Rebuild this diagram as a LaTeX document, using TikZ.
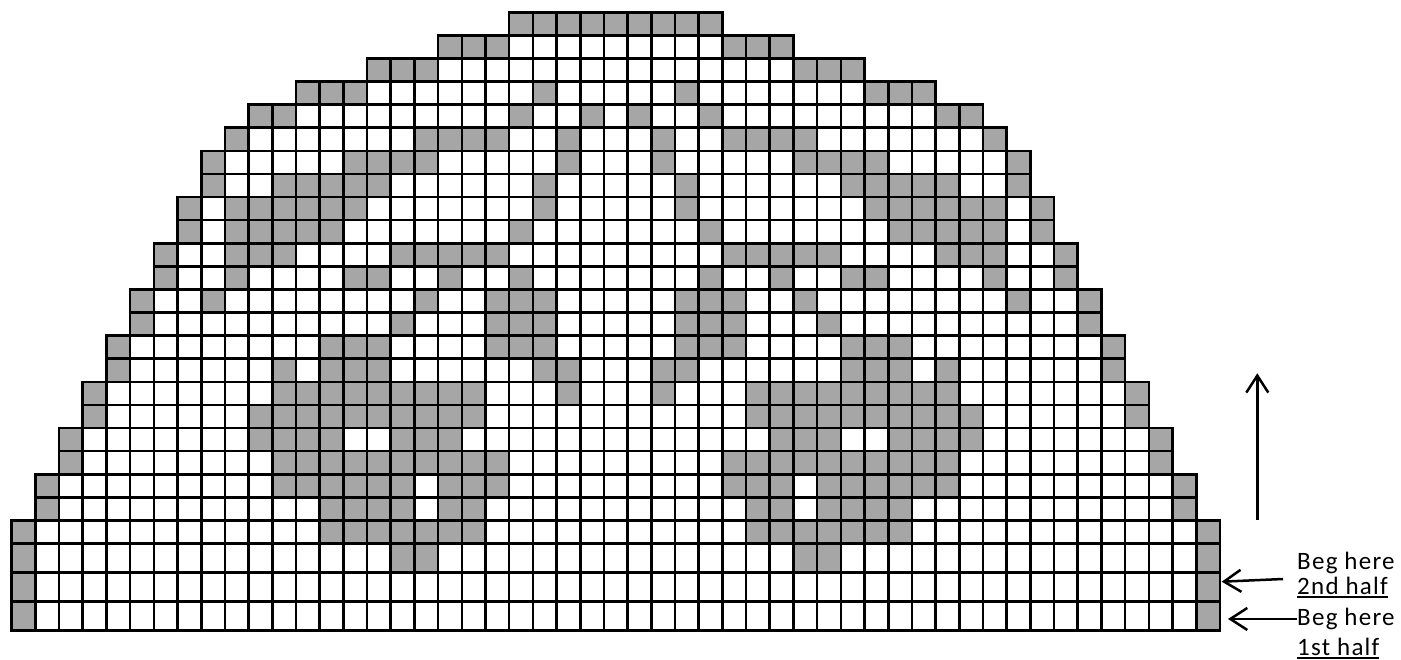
\documentclass[tikz,border=0pt]{standalone}
\usepackage{fontspec}
\setmainfont{Carlito}
\newfontfamily\lblfont[LetterSpace=5]{Carlito}
\usetikzlibrary{arrows.meta}
\definecolor{chartgray}{RGB}{166,166,166}
\newcommand\chartul[1]{\leavevmode\setbox0\hbox{#1}\rlap{\rule[-3.5pt]{\wd0}{2pt}}\box0}
\def\chartrows{26/21/{21,22,23,24,25}, 25/18/{18,19,20}, 24/15/{15,16,17},
  23/12/{12,13,14,22}, 22/10/{10,11,21,24}, 21/9/{9,17,18,19,20,23},
  20/8/{8,14,15,16,17,23}, 19/8/{8,11,12,13,14,15,22},
  18/7/{7,9,10,11,12,13,14,22}, 17/7/{7,9,10,11,12,13,21},
  16/6/{6,9,10,11,16,17,18,19,20}, 15/6/{6,9,14,15,18,21},
  14/5/{5,8,17,20,21,22}, 13/5/{5,16,20,21,22},
  12/4/{4,13,14,15,20,21,22}, 11/4/{4,11,13,14,15,22,23},
  10/3/{3,11,12,13,14,15,16,17,18,19,23}, 9/3/{3,10,11,12,13,14,15,16,17,18,19},
  8/2/{2,10,11,12,13,16,17,18}, 7/2/{2,11,12,13,14,15,16,17,18,19,20},
  6/1/{1,11,12,13,14,15,16,18,19,20}, 5/1/{1,13,14,15,16,18,19},
  4/0/{0,13,14,15,16,17,18,19}, 3/0/{0,16,17}, 2/0/{0}, 1/0/{0}}

\begin{document}
\begin{tikzpicture}[x=1pt,y=1pt,
    box/.style={draw=black, line width=2.6pt},
    barb/.style={-{Straight Barb[length=17pt,width=22pt,line width=2.5pt]}, line width=2.5pt},
    lbl/.style={anchor=base west, inner sep=0pt, font=\lblfont\fontsize{25}{25}\selectfont}]
    \useasboundingbox (0,0) rectangle (1401,659);
    \def\cw{23.69}
    \foreach \r/\L/\gl in \chartrows {
        \pgfmathsetmacro\yb{\r>3 ? 115.4+(\r-4)*23.1 : 28.7+(\r-1)*28.9}
        \pgfmathsetmacro\yt{\r>3 ? \yb+23.1 : \yb+28.9}
        \foreach \c in \gl {
            \pgfmathtruncatemacro\m{50-\c}
            \fill[chartgray] ({11.7+\c*\cw},\yb) rectangle ({11.7+(\c+1)*\cw},\yt);
            \fill[chartgray] ({11.7+\m*\cw},\yb) rectangle ({11.7+(\m+1)*\cw},\yt);
        }
    }
    \foreach \r/\L/\gl in \chartrows {
        \pgfmathsetmacro\yb{\r>3 ? 115.4+(\r-4)*23.1 : 28.7+(\r-1)*28.9}
        \pgfmathsetmacro\yt{\r>3 ? \yb+23.1 : \yb+28.9}
        \pgfmathtruncatemacro\R{50-\L}
        \foreach \c in {\L,...,\R}
            \draw[box] ({11.7+\c*\cw},\yb) rectangle ({11.7+(\c+1)*\cw},\yt);
    }
    \node[lbl] (beg2) at (1297,89.7) {Beg here};
    \node[lbl] (half2) at (1297,64.5) {\chartul{2nd half}};
    \node[lbl] (beg1) at (1297,33.5) {Beg here};
    \node[lbl] (half1) at (1297,4) {\chartul{1st half}};
    \coordinate (row2start) at (1283,80);
    \coordinate (row2end) at (1221.7,77.3);
    \coordinate (row1end) at (1228,37.3);
    \coordinate (up0) at (1257.3,139);
    \coordinate (up1) at (1257.3,285.7);
    \draw[barb] (row2start) -- (row2end);
    \draw[barb] (beg1.west) -- (row1end |- beg1.west);
    \draw[barb] (up0) -- (up1);
\end{tikzpicture}
\end{document}
